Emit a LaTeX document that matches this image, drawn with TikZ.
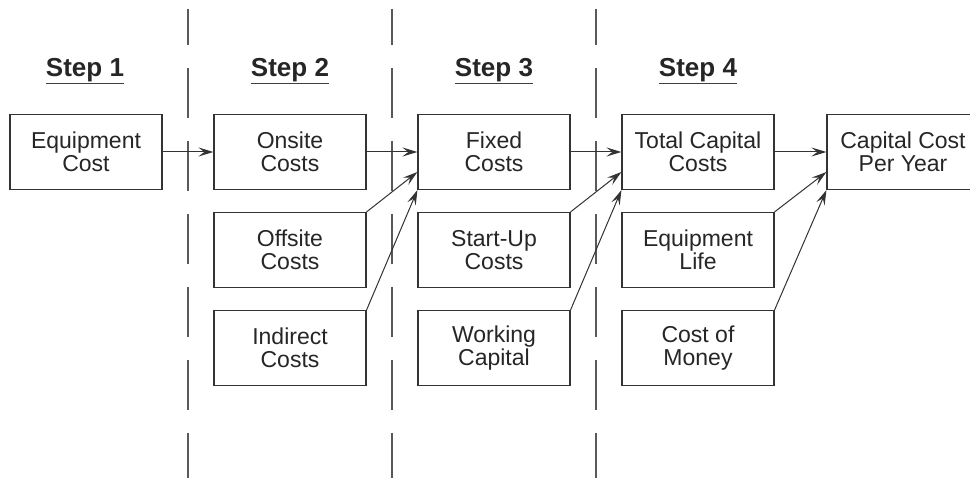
\documentclass[tikz,border=0pt]{standalone}
\usepackage{fontspec}
\setmainfont{Liberation Sans}
\usetikzlibrary{arrows.meta}
\begin{document}
\begin{tikzpicture}[x=1pt,y=-1pt,
  box/.style={draw=black!80, line width=1.2pt, minimum width=152pt, minimum height=75pt,
    inner sep=0pt, align=center, text=black!85,
    font=\fontsize{23}{23.5}\selectfont},
  steplabel/.style={inner xsep=0pt, text=black!85, font=\fontsize{26}{28}\selectfont\bfseries},
  uline/.style={draw=black!75, line width=1.3pt},
  divider/.style={draw=black!65, line width=1.3pt, dash pattern=on 50pt off 23pt, dash phase=14pt},
  conn/.style={draw=black!80, line width=1pt, -{Stealth[length=15pt,width=9pt,inset=6pt]}}]
\useasboundingbox (0,0) rectangle (970,478);
\clip (0,0) rectangle (970,478);
\fill[white] (0,0) rectangle (970,478);

% dividers
\coordinate (d1t) at (188,9);  \coordinate (d1b) at (188,478);
\coordinate (d2t) at (392,9);  \coordinate (d2b) at (392,478);
\coordinate (d3t) at (596,9);  \coordinate (d3b) at (596,478);
\draw[divider] (d1t) -- (d1b);
\draw[divider] (d2t) -- (d2b);
\draw[divider] (d3t) -- (d3b);

% step labels
\node[steplabel] (s1) at (85,70) {Step 1};
\node[steplabel] (s2) at (290,70) {Step 2};
\node[steplabel] (s3) at (494,70) {Step 3};
\node[steplabel] (s4) at (698,70) {Step 4};
\foreach \s in {s1,s2,s3,s4}
  \draw[uline] ([yshift=-7pt]\s.base west) -- ([yshift=-7pt]\s.base east);

% boxes
\node[box] (eq)   at (86,152)  {Equipment\\Cost};
\node[box] (ons)  at (290,152) {Onsite\\Costs};
\node[box] (off)  at (290,250) {Offsite\\Costs};
\node[box] (ind)  at (290,348) {Indirect\\Costs};
\node[box] (fix)  at (494,152) {Fixed\\Costs};
\node[box] (st)   at (494,250) {Start-Up\\Costs};
\node[box] (wc)   at (494,348) {Working\\Capital};
\node[box] (tot)  at (698,152) {Total Capital\\Costs};
\node[box] (life) at (698,250) {Equipment\\Life};
\node[box] (mon)  at (698,348) {Cost of\\Money};
\node[box] (cc)   at (903,152) {Capital Cost\\Per Year};

% connectors
\draw[conn] (eq) -- (ons);
\draw[conn] (ons) -- (fix);
\draw[conn] (off.north east) -- ([yshift=-20pt]fix.west);
\draw[conn] (ind.north east) -- (fix.south west);
\draw[conn] (fix) -- (tot);
\draw[conn] (st.north east) -- ([yshift=-20pt]tot.west);
\draw[conn] (wc.north east) -- (tot.south west);
\draw[conn] (tot) -- (cc);
\draw[conn] (life.north east) -- ([yshift=-20pt]cc.west);
\draw[conn] (mon.north east) -- (cc.south west);
\end{tikzpicture}
\end{document}
